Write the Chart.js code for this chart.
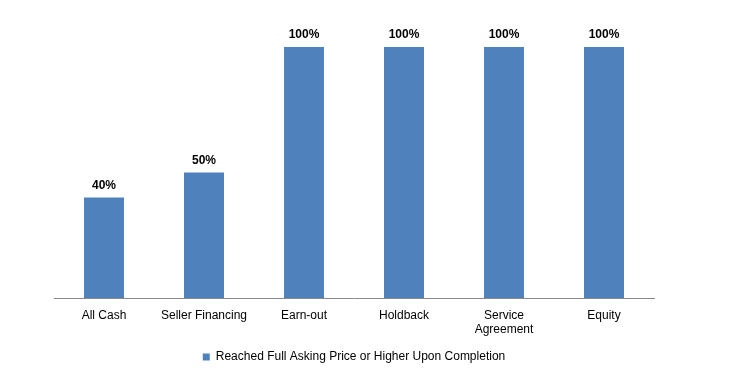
<!DOCTYPE html>
<html>
<head>
<meta charset="utf-8">
<script src="https://cdn.jsdelivr.net/npm/chart.js@4"></script>
<style>
  html, body { margin: 0; padding: 0; background: #fff; }
  #wrap { width: 742px; height: 376px; }
</style>
</head>
<body>
<div id="wrap"><canvas id="chart" width="742" height="376"></canvas></div>
<script>
const categories = ['All Cash', 'Seller Financing', 'Earn-out', 'Holdback', ['Service', 'Agreement'], 'Equity'];
const seriesLabel = 'Reached Full Asking Price or Higher Upon Completion';
const seriesValues = [40, 50, 100, 100, 100, 100];

// draws "40%" etc above each bar
const barLabels = {
    id: 'barLabels',
    afterDatasetsDraw(chart) {
        const ctx = chart.ctx;
        const meta = chart.getDatasetMeta(0);
        ctx.save();
        ctx.font = 'bold 12px "Liberation Sans", Arial, sans-serif';
        ctx.fillStyle = '#000';
        ctx.textAlign = 'center';
        ctx.textBaseline = 'bottom';
        meta.data.forEach((bar, i) => {
            ctx.fillText(seriesValues[i] + '%', bar.x, bar.y - 6);
        });
        ctx.restore();
    }
};

Chart.defaults.font.family = '"Liberation Sans", Arial, sans-serif';
Chart.defaults.font.size = 12;
Chart.defaults.color = '#000';

new Chart(document.getElementById('chart'), {
    type: 'bar',
    data: {
        labels: categories,
        datasets: [{
            label: seriesLabel,
            data: seriesValues,
            backgroundColor: '#4f81bd',
            barPercentage: 0.4,
            categoryPercentage: 1.0
        }]
    },
    options: {
        responsive: false,
        animation: false,
        layout: { padding: { left: 54, right: 88, top: 47, bottom: 3 } },
        plugins: {
            legend: {
                position: 'bottom',
                labels: {
                    boxWidth: 7,
                    boxHeight: 7,
                    padding: 10,
                    color: '#000',
                    font: { size: 12 }
                }
            },
            tooltip: { enabled: false }
        },
        scales: {
            x: {
                grid: { display: false, drawTicks: false },
                border: { color: '#898989', width: 1 },
                ticks: { maxRotation: 0, autoSkip: false, padding: 10, color: '#000' },
                afterFit(scale) { scale.height = 43; }
            },
            y: {
                display: false,
                min: 0,
                max: 100
            }
        }
    },
    plugins: [barLabels]
});
</script>
</body>
</html>
